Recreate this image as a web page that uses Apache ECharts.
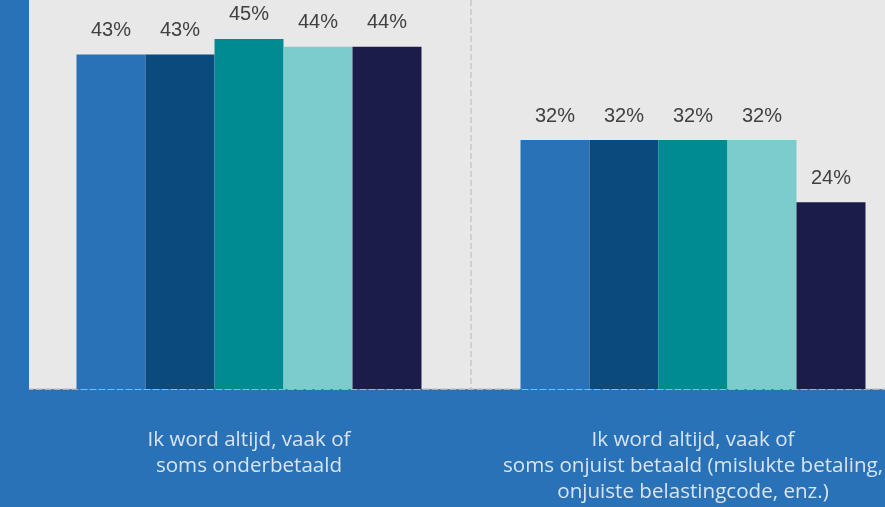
<!DOCTYPE html>
<html><head><meta charset="utf-8">
<script src="https://cdn.jsdelivr.net/npm/echarts@6/dist/echarts.min.js"></script>
<style>html,body{margin:0;padding:0;background:#2a72b8;overflow:hidden;width:885px;height:507px;}#c{width:925px;height:507px;}</style>
</head><body><div id="c"></div>
<script>
const categories = [
  "Ik word altijd, vaak of\nsoms onderbetaald",
  "Ik word altijd, vaak of\nsoms onjuist betaald (mislukte betaling,\nonjuiste belastingcode, enz.)"
];
const seriesA = [43, 32];
const seriesB = [43, 32];
const seriesC = [45, 32];
const seriesD = [44, 32];
const seriesE = [44, 24];
const colors = ["#2a72b8", "#0b4a7c", "#008b93", "#7dcccc", "#1c1c4b"];
const allSeries = [seriesA, seriesB, seriesC, seriesD, seriesE];

const chart = echarts.init(document.getElementById('c'), null, {renderer: 'canvas'});
chart.setOption({
  backgroundColor: '#2a72b8',
  animation: false,
  grid: {left: 27, width: 888, top: 0, bottom: 118, show: true, backgroundColor: '#e8e8e8', borderWidth: 0},
  graphic: [{type: 'rect', left: 0, top: 0, shape: {width: 29, height: 392}, style: {fill: '#2a72b8'}, z: 100}],
  xAxis: {
    type: 'category', data: categories,
    axisLine: {show: true, lineStyle: {color: '#c8c8c8', type: 'dashed', width: 1.5}},
    axisTick: {show: false},
    splitLine: {show: true, lineStyle: {color: '#c8c8c8', type: 'dashed', width: 1.5}},
    axisLabel: {color: '#d8e4f2', fontSize: 20.6, fontFamily: 'Open Sans', lineHeight: 26, margin: 38, interval: 0}
  },
  yAxis: {type: 'value', min: 0, max: 50, show: false, splitLine: {show: false}},
  series: allSeries.map((d, i) => ({
    type: 'bar', data: d, barWidth: 69, barGap: '0%',
    itemStyle: {color: colors[i]},
    label: {show: true, position: 'top', distance: 14, formatter: '{c}%', color: '#404040', fontSize: 20, fontFamily: 'Liberation Sans'}
  }))
});
</script></body></html>
